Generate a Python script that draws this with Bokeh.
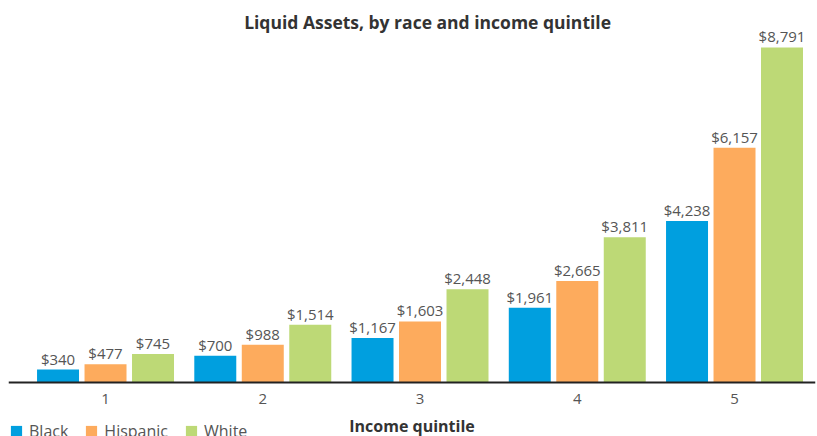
from bokeh.plotting import figure
from bokeh.models import ColumnDataSource, Range1d, Legend, LegendItem, Label
from bokeh.transform import dodge
from bokeh.core.properties import value
from bokeh.embed import file_html
from bokeh.resources import INLINE

quintiles = [1, 2, 3, 4, 5]
tick_labels = ["1", "2", "3", "4", "5"]
black = [340, 700, 1167, 1961, 4238]
hispanic = [477, 988, 1603, 2665, 6157]
white = [745, 1514, 2448, 3811, 8791]
series_names = ["Black", "Hispanic", "White"]
colors = ["#009fdf", "#fdab5d", "#bdd976"]
title_text = "Liquid Assets, by race and income quintile"
xlabel = "Income quintile"

FONT = "Open Sans"

src = ColumnDataSource(dict(
    q=quintiles,
    black=black, hispanic=hispanic, white=white,
    black_lbl=[f"${v:,}" for v in black],
    hispanic_lbl=[f"${v:,}" for v in hispanic],
    white_lbl=[f"${v:,}" for v in white],
))

p = figure(width=817, height=436, output_backend="svg", toolbar_location=None,
           x_range=Range1d(0.383, 5.515), y_range=Range1d(-1417, 10024),
           min_border_left=8, min_border_right=2, min_border_top=0, min_border_bottom=0)
p.outline_line_color = None
p.xgrid.visible = False
p.ygrid.visible = False
p.yaxis.visible = False

offsets = [-0.302, 0.0, 0.302]
cols = ["black", "hispanic", "white"]
renderers = []
for col, off, c in zip(cols, offsets, colors):
    r = p.vbar(x=dodge("q", off, range=p.x_range), top=col, width=0.267, bottom=0,
               source=src, fill_color=c, line_color=None)
    renderers.append(r)
    p.text(x=dodge("q", off, range=p.x_range), y=col, text=col + "_lbl", source=src,
           text_align="center", text_baseline="bottom", y_offset=-1,
           text_font=value(FONT), text_font_size="15px", text_color="#555555")

ax = p.xaxis[0]
ax.fixed_location = 0
ax.ticker = quintiles
ax.major_label_overrides = {q: t for q, t in zip(quintiles, tick_labels)}
ax.major_tick_line_color = None
ax.major_tick_out = 0
ax.major_tick_in = 0
ax.minor_tick_line_color = None
ax.minor_tick_out = 0
ax.axis_line_color = "#222222"
ax.axis_line_width = 2
ax.major_label_text_font = FONT
ax.major_label_text_font_size = "15px"
ax.major_label_text_color = "#555555"
ax.major_label_standoff = 11
ax.axis_label = xlabel
ax.axis_label_text_font = FONT
ax.axis_label_text_font_size = "16px"
ax.axis_label_text_font_style = "bold"
ax.axis_label_text_color = "#333333"
ax.axis_label_standoff = 8

title = Label(x=3.048, y=9449, text=title_text, text_align="center", text_baseline="middle",
              text_font=FONT, text_font_size="17.5px", text_font_style="bold",
              text_color="#333333")
p.add_layout(title)

legend = Legend(items=[LegendItem(label=n, renderers=[r]) for n, r in zip(series_names, renderers)],
                orientation="horizontal", location=(1, -6),
                label_text_font=FONT, label_text_font_size="16px", label_text_color="#555555",
                glyph_width=14, glyph_height=14, spacing=16, padding=0, margin=0,
                label_standoff=6, border_line_color=None, background_fill_alpha=0)
p.add_layout(legend, "center")

open("out.html", "w").write(file_html(p, INLINE))
